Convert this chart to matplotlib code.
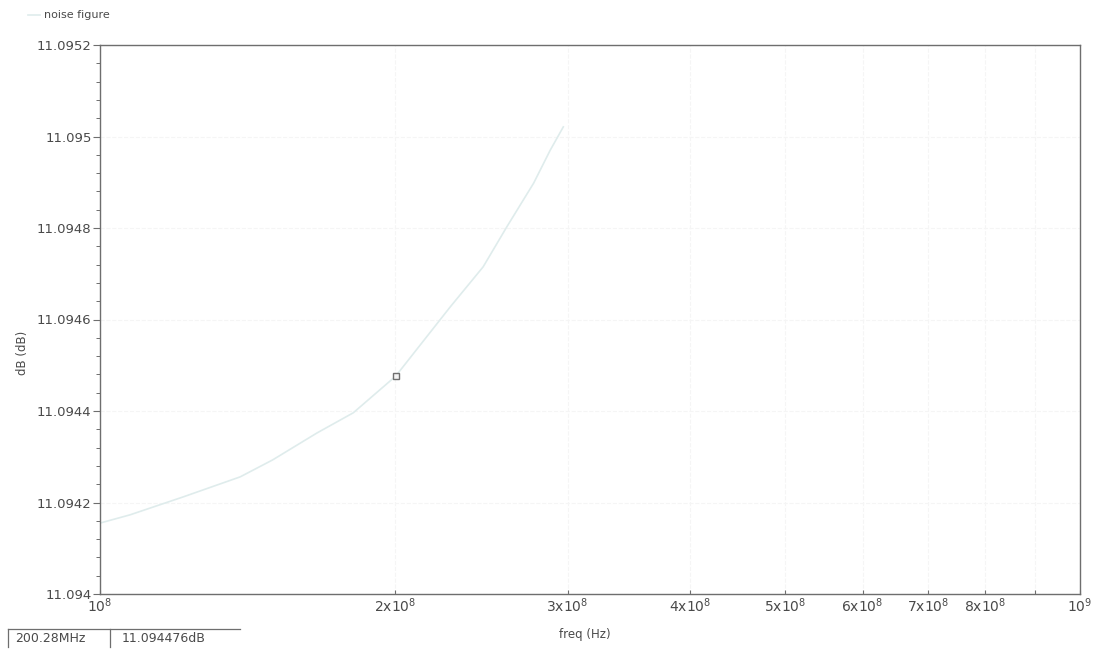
import matplotlib
matplotlib.use('Agg')

import matplotlib.pyplot as plt
from matplotlib.ticker import FixedLocator, NullFormatter

# noise figure trace
freq_hz = [1.0e8, 1.073e8, 1.215e8, 1.39e8, 1.50e8, 1.665e8, 1.813e8, 2.0028e8,
           2.276e8, 2.46e8, 2.60e8, 2.77e8, 2.88e8, 2.97e8]
nf_db = [11.094155, 11.094173, 11.094212, 11.094256, 11.094293, 11.094352,
         11.094396, 11.094476, 11.094627, 11.094715, 11.094802, 11.094898,
         11.094970, 11.095021]

# marker readout
marker_f = 200.28e6
marker_v = 11.094476

y_ticks = [11.094, 11.0942, 11.0944, 11.0946, 11.0948, 11.095, 11.0952]
y_labels = ['11.094', '11.0942', '11.0944', '11.0946', '11.0948', '11.095', '11.0952']
x_ticks = [1e8, 2e8, 3e8, 4e8, 5e8, 6e8, 7e8, 8e8, 9e8, 1e9]
x_labels = [r'$10^{8}$', r'$2\mathrm{x}10^{8}$', r'$3\mathrm{x}10^{8}$',
            r'$4\mathrm{x}10^{8}$', r'$5\mathrm{x}10^{8}$', r'$6\mathrm{x}10^{8}$',
            r'$7\mathrm{x}10^{8}$', r'$8\mathrm{x}10^{8}$', '', r'$10^{9}$']

txt = '#4a4a4a'
axc = '#6e6e6e'
trace = '#dfecec'

fig = plt.figure(figsize=(11.04, 6.52), dpi=100)
ax = fig.add_axes([100 / 1104, 1 - 594 / 652, 980 / 1104, 549 / 652])

ax.plot(freq_hz, nf_db, color=trace, lw=1.2, zorder=2)
ax.plot([marker_f], [marker_v], marker='s', ms=4, mfc='#f4f4f4', mec='#707070',
        mew=1.0, ls='none', zorder=3)

ax.set_xscale('log')
ax.set_xlim(1e8, 1e9)
ax.set_ylim(11.094, 11.0952)

ax.xaxis.set_major_locator(FixedLocator(x_ticks))
ax.set_xticklabels(x_labels)
ax.xaxis.set_minor_formatter(NullFormatter())
ax.xaxis.set_minor_locator(FixedLocator([]))
ax.set_yticks(y_ticks)
ax.set_yticklabels(y_labels)
ax.yaxis.set_minor_locator(FixedLocator(
    [11.094 + i * 0.00004 for i in range(31) if i % 5 != 0]))

ax.tick_params(axis='y', which='major', direction='out', length=5, width=0.8,
               colors=axc, labelcolor=txt, labelsize=9.5, pad=1)
ax.tick_params(axis='y', which='minor', direction='out', length=3, width=0.7,
               colors=axc)
ax.tick_params(axis='x', which='major', direction='in', length=3, width=0.8,
               colors=axc, labelcolor=txt, labelsize=10, pad=2)

for s in ax.spines.values():
    s.set_color(axc)
    s.set_linewidth(1.0)

ax.grid(True, which='major', color='#f5f5f5', lw=0.8, ls='--', zorder=0)

ax.set_xlabel('freq (Hz)', color=txt, fontsize=8.5)
ax.xaxis.set_label_coords(0.495, -0.062)
ax.set_ylabel('dB (dB)', color=txt, fontsize=8.5)
ax.yaxis.set_label_coords(-0.072, 0.44)

# legend entry at top-left
fig.add_artist(plt.Line2D([28 / 1104, 40 / 1104], [1 - 15 / 652, 1 - 15 / 652],
                          color=trace, lw=1.2))
fig.text(44 / 1104, 1 - 15 / 652, 'noise figure', color=txt, fontsize=8,
         va='center', ha='left')

# marker readout box at bottom-left
fig.add_artist(plt.Line2D([8 / 1104, 240 / 1104], [1 - 629 / 652, 1 - 629 / 652],
                          color=axc, lw=0.9))
for xv in (8, 110):
    fig.add_artist(plt.Line2D([xv / 1104, xv / 1104], [1 - 629 / 652, 1 - 647 / 652],
                              color=axc, lw=0.9))
fig.text(15 / 1104, 1 - 638 / 652, f'{marker_f / 1e6:.2f}MHz', color=txt,
         fontsize=9, va='center', ha='left')
fig.text(122 / 1104, 1 - 638 / 652, f'{marker_v:.6f}dB', color=txt,
         fontsize=9, va='center', ha='left')

fig.savefig('out.png', dpi=100)
plt.close(fig)
